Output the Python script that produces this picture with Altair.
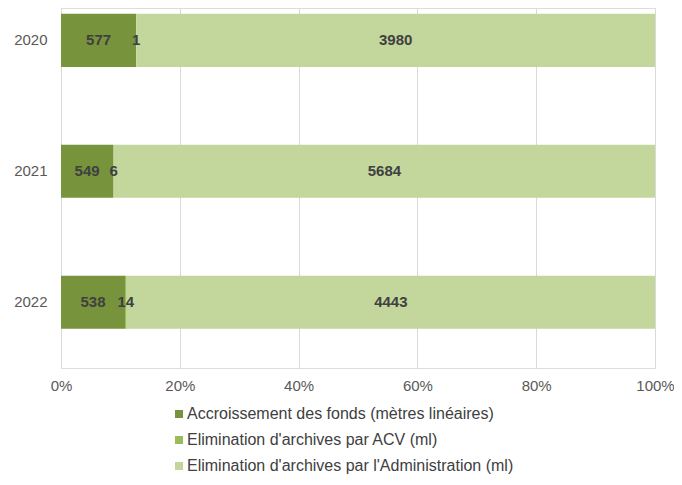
import altair as alt
import pandas as pd

years = ["2020", "2021", "2022"]
series = [
    "Accroissement des fonds (mètres linéaires)",
    "Elimination d'archives par ACV (ml)",
    "Elimination d'archives par l'Administration (ml)",
]
accroissement = [577, 549, 538]
elim_acv = [1, 6, 14]
elim_admin = [3980, 5684, 4443]
colors = ["#77933C", "#9BBB59", "#C3D69B"]

rows = []
for i, y in enumerate(years):
    for k, vals in enumerate([accroissement, elim_acv, elim_admin]):
        rows.append({"year": y, "series": series[k], "order": k, "value": vals[i]})
df = pd.DataFrame(rows)

base = alt.Chart(df).transform_stack(
    stack="value",
    groupby=["year"],
    as_=["x0", "x1"],
    offset="normalize",
    sort=[alt.SortField("order", order="ascending")],
).transform_calculate(mid="(datum.x0 + datum.x1) / 2")

yenc = alt.Y(
    "year:N",
    sort=years,
    title=None,
    scale=alt.Scale(paddingInner=0.595, paddingOuter=0.172, align=0.13),
    axis=alt.Axis(
        domain=False, ticks=False, labelFont="Liberation Sans", labelFontSize=15,
        labelColor="#595959", labelPadding=14,
    ),
)

bars = base.mark_bar().encode(
    x=alt.X(
        "x0:Q",
        title=None,
        scale=alt.Scale(domain=[0, 1], nice=False),
        axis=alt.Axis(
            format="%", values=[0, 0.2, 0.4, 0.6, 0.8, 1.0], domain=False, ticks=False,
            grid=True, gridColor="#D9D9D9", gridWidth=1,
            labelFont="Liberation Sans", labelFontSize=15, labelColor="#595959",
            labelPadding=10, labelFlush=False,
        ),
    ),
    x2="x1:Q",
    y=yenc,
    color=alt.Color(
        "series:N",
        sort=series,
        scale=alt.Scale(domain=series, range=colors),
        legend=alt.Legend(
            title=None, orient="none", legendX=110, legendY=398, direction="vertical",
            symbolType="square", symbolSize=64, symbolStrokeWidth=0,
            labelFont="Liberation Sans", labelFontSize=16, labelColor="#404040",
            rowPadding=10, padding=0, labelOffset=0, labelLimit=500,
        ),
    ),
    order=alt.Order("order:Q"),
)

labels = base.mark_text(
    font="Liberation Sans", fontSize=15, fontWeight="bold", color="#404040"
).encode(
    x=alt.X("mid:Q"),
    y=alt.Y("year:N", sort=years),
    text=alt.Text("value:Q", format="d"),
)

chart = (
    alt.layer(bars, labels)
    .properties(
        width=594,
        height=360,
        autosize=alt.AutoSizeParams(type="none"),
        padding={"left": 53, "top": 0, "right": 19, "bottom": 110},
    )
    .configure_view(stroke=None)
    .configure(background="white")
)

chart.save("out.html", embed_options={"renderer": "svg", "actions": False})
